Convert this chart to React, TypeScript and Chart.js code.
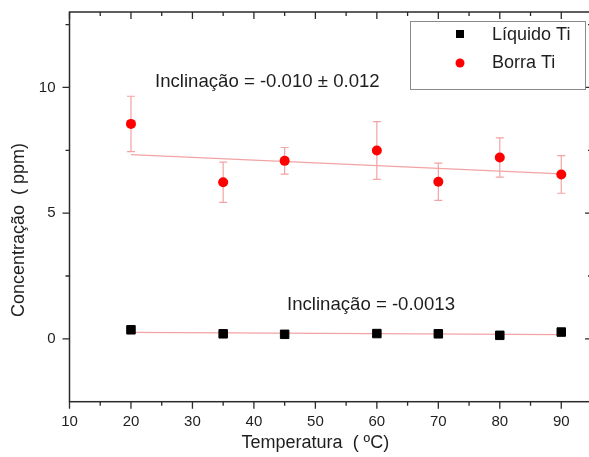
import React, { useEffect, useRef } from "react";
import { Chart, registerables } from "chart.js";

Chart.register(...registerables);

// ---- data ----
const temperatures = [20, 35, 45, 60, 70, 80, 90];
const liquidoTi = [0.36, 0.2, 0.18, 0.21, 0.2, 0.14, 0.27];
const borraTi = [8.55, 6.23, 7.08, 7.49, 6.25, 7.21, 6.54];
const borraErr = [1.1, 0.8, 0.53, 1.15, 0.74, 0.78, 0.75];
const fitX = [20, 90];
const borraFit = [7.33, 6.56];
const liquidoFit = [0.26, 0.17];
const xMajorTicks = [10, 20, 30, 40, 50, 60, 70, 80, 90];
const xMinorTicks = [15, 25, 35, 45, 55, 65, 75, 85];
const yMajorTicks = [0, 5, 10];
const yMinorTicks = [2.5, 7.5, 12.5];
const seriesNames = ["Líquido Ti", "Borra Ti"];
const borraSlopeText = "Inclinação = -0.010 ± 0.012";
const liquidoSlopeText = "Inclinação = -0.0013";
const xTitle = "Temperatura  ( ºC)";
const yTitle = "Concentração  ( ppm)";

const FONT = "'Liberation Sans', Arial, sans-serif";
const TEXT = "#1e1e1e";
const AXIS = "#2a2a2a";
const PINK = "#f3a3a3";

const decorPlugin = {
  id: "decor",
  beforeDatasetsDraw(chart: any) {
    const ctx = chart.ctx;
    const xs = chart.scales.x;
    const ys = chart.scales.y;
    ctx.save();
    ctx.strokeStyle = PINK;
    ctx.lineWidth = 1.2;
    temperatures.forEach((t, i) => {
      const px = xs.getPixelForValue(t);
      const top = ys.getPixelForValue(borraTi[i] + borraErr[i]);
      const bot = ys.getPixelForValue(borraTi[i] - borraErr[i]);
      ctx.beginPath();
      ctx.moveTo(px, top);
      ctx.lineTo(px, bot);
      ctx.moveTo(px - 4, top);
      ctx.lineTo(px + 4, top);
      ctx.moveTo(px - 4, bot);
      ctx.lineTo(px + 4, bot);
      ctx.stroke();
    });
    ctx.restore();
  },
  afterDraw(chart: any) {
    const ctx = chart.ctx;
    const xs = chart.scales.x;
    const ys = chart.scales.y;
    const { left, right, top, bottom } = chart.chartArea;
    ctx.save();
    ctx.strokeStyle = AXIS;
    ctx.lineWidth = 1.5;
    ctx.strokeRect(left, top, right - left, bottom - top);
    ctx.lineWidth = 1.3;
    const major = 7;
    const minor = 4;
    ctx.beginPath();
    const xt = (v: number, len: number) => {
      const p = xs.getPixelForValue(v);
      ctx.moveTo(p, bottom);
      ctx.lineTo(p, bottom + len);
      ctx.moveTo(p, top);
      ctx.lineTo(p, top + len);
    };
    const yt = (v: number, len: number) => {
      const p = ys.getPixelForValue(v);
      ctx.moveTo(left, p);
      ctx.lineTo(left - len, p);
      ctx.moveTo(right, p);
      ctx.lineTo(right - len, p);
    };
    xMajorTicks.forEach((v) => xt(v, major));
    xMinorTicks.forEach((v) => xt(v, minor));
    yMajorTicks.forEach((v) => yt(v, major));
    yMinorTicks.forEach((v) => yt(v, minor));
    ctx.stroke();

    // titles
    ctx.fillStyle = TEXT;
    ctx.font = `18px ${FONT}`;
    ctx.textAlign = "center";
    ctx.textBaseline = "middle";
    const xc = (xs.getPixelForValue(xMajorTicks[0]) + xs.getPixelForValue(xMajorTicks[xMajorTicks.length - 1])) / 2;
    ctx.fillText(xTitle, xc, 443);
    ctx.save();
    ctx.translate(19, 230);
    ctx.rotate(-Math.PI / 2);
    ctx.fillText(yTitle, 0, 0);
    ctx.restore();

    // slope annotations
    ctx.font = `18.6px ${FONT}`;
    ctx.textAlign = "left";
    ctx.fillText(borraSlopeText, 155, 82);
    ctx.fillText(liquidoSlopeText, 287, 305);

    // legend
    ctx.font = `18px ${FONT}`;
    ctx.strokeStyle = "#8a8a8a";
    ctx.lineWidth = 1;
    ctx.strokeRect(410.5, 21.5, 175, 68);
    ctx.fillStyle = "#000";
    ctx.fillRect(456, 30, 8, 8);
    ctx.fillStyle = "#ff0000";
    ctx.beginPath();
    ctx.arc(460, 63, 4.5, 0, Math.PI * 2);
    ctx.fill();
    ctx.fillStyle = TEXT;
    ctx.fillText(seriesNames[0], 492, 35);
    ctx.fillText(seriesNames[1], 492, 63);
    ctx.restore();
  },
};

export default function App() {
  const ref = useRef<HTMLCanvasElement | null>(null);
  useEffect(() => {
    if (!ref.current) return;
    const chart = new Chart(ref.current, {
      type: "scatter",
      data: {
        datasets: [
          {
            label: seriesNames[0],
            data: temperatures.map((t, i) => ({ x: t, y: liquidoTi[i] })),
            pointStyle: "rect",
            pointRadius: 6,
            pointBackgroundColor: "#000",
            pointBorderColor: "#000",
            pointBorderWidth: 1,
            showLine: false,
          },
          {
            label: seriesNames[1],
            data: temperatures.map((t, i) => ({ x: t, y: borraTi[i] })),
            pointStyle: "circle",
            pointRadius: 5,
            pointBackgroundColor: "#ff0000",
            pointBorderColor: "#ff0000",
            pointBorderWidth: 0,
            showLine: false,
          },
          {
            label: "fit borra",
            data: fitX.map((x, i) => ({ x, y: borraFit[i] })),
            showLine: true,
            borderColor: PINK,
            borderWidth: 1.3,
            pointRadius: 0,
          },
          {
            label: "fit liquido",
            data: fitX.map((x, i) => ({ x, y: liquidoFit[i] })),
            showLine: true,
            borderColor: PINK,
            borderWidth: 1.3,
            pointRadius: 0,
          },
        ],
      },
      options: {
        responsive: false,
        animation: false,
        devicePixelRatio: 1,
        layout: { padding: { left: 0, top: 12, right: 8, bottom: 0 } },
        plugins: { legend: { display: false }, tooltip: { enabled: false } },
        scales: {
          x: {
            type: "linear",
            min: 10,
            max: 95,
            grid: { display: false, drawTicks: false },
            border: { display: false },
            afterBuildTicks: (s: any) => {
              s.ticks = xMajorTicks.map((v) => ({ value: v }));
            },
            afterFit: (s: any) => {
              s.height = 55.3;
              s.paddingLeft = 0;
              s.paddingRight = 0;
            },
            ticks: {
              color: TEXT,
              padding: 11,
              font: { family: FONT, size: 15 },
              maxRotation: 0,
              autoSkip: false,
            },
          },
          y: {
            type: "linear",
            min: -2.5,
            max: 13,
            grid: { display: false, drawTicks: false },
            border: { display: false },
            afterBuildTicks: (s: any) => {
              s.ticks = yMajorTicks.map((v) => ({ value: v }));
            },
            afterFit: (s: any) => {
              s.width = 69.5;
              s.paddingTop = 0;
              s.paddingBottom = 0;
            },
            ticks: {
              color: TEXT,
              padding: 14,
              font: { family: FONT, size: 15 },
              autoSkip: false,
            },
          },
        },
      },
      plugins: [decorPlugin],
    } as any);
    return () => chart.destroy();
  }, []);
  return (
    <div style={{ position: "fixed", left: 0, top: 0, width: 600, height: 457, background: "#fff", overflow: "hidden" }}>
      <canvas ref={ref} width={600} height={457} style={{ display: "block" }} />
    </div>
  );
}
